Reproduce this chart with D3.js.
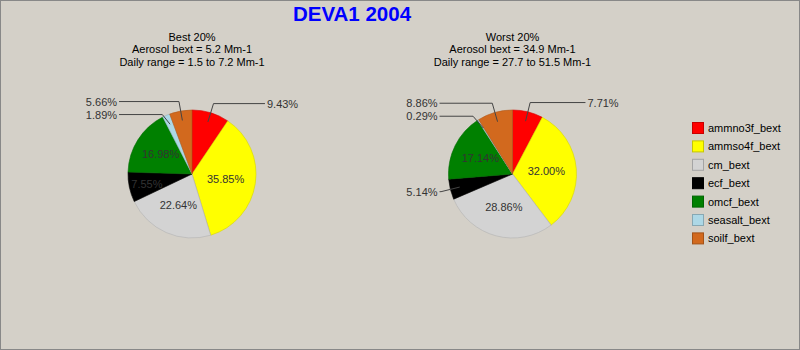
<!DOCTYPE html>
<html><head><meta charset="utf-8">
<script src="https://cdn.jsdelivr.net/npm/d3@7"></script>
<style>body{margin:0;background:#d4d0c8;} svg{display:block;font-family:Arial,"Liberation Sans",sans-serif;}</style>
</head><body><svg id="c" width="800" height="350"></svg>
<script>
const title = "DEVA1 2004";
const categories = ["ammno3f_bext","ammso4f_bext","cm_bext","ecf_bext","omcf_bext","seasalt_bext","soilf_bext"];
const colors = ["#ff0000","#ffff00","#d3d3d3","#000000","#008000","#add8e6","#d2691e"];
const bestValues = [9.43,35.85,22.64,7.55,16.98,1.89,5.66];
const worstValues = [7.71,32.00,28.86,5.14,17.14,0.29,8.86];
const bestTitle = ["Best 20%","Aerosol bext = 5.2 Mm-1","Daily range = 1.5 to 7.2 Mm-1"];
const worstTitle = ["Worst 20%","Aerosol bext = 34.9 Mm-1","Daily range = 27.7 to 51.5 Mm-1"];

const W=800,H=350;
const svg=d3.select("#c");
svg.append("rect").attr("x",0.5).attr("y",0.5).attr("width",W-1).attr("height",H-1)
  .attr("fill","#d4d0c8").attr("stroke","#888");
svg.append("text").attr("x",352).attr("y",21).attr("text-anchor","middle")
  .attr("font-size",20.5).attr("font-weight","bold").attr("fill","#0000ff").text(title);

function drawPie(cx,cy,r,values,titles){
  const g=svg.append("g");
  titles.forEach((t,i)=>g.append("text").attr("x",cx).attr("y",41+i*12.3)
    .attr("text-anchor","middle").attr("font-size",11).attr("fill","#000").text(t));
  const pie=d3.pie().sort(null).value(d=>d)(values);
  const arc=d3.arc().innerRadius(0).outerRadius(r);
  const pg=g.append("g").attr("transform",`translate(${cx},${cy})`);
  pg.selectAll("path").data(pie).join("path").attr("d",arc)
    .attr("fill",(d,i)=>colors[i])
    .attr("stroke",(d,i)=>d3.color(colors[i]).darker(0.5)).attr("stroke-width",0.6);
  const total=d3.sum(values);
  const fmt=v=>(v/total*100).toFixed(2)+"%";
  const angOf=(x,y)=>{let a=Math.atan2(x,-y); if(a<0)a+=2*Math.PI; return a;};
  const outside=[];
  pie.forEach((d,i)=>{
    const txt=fmt(d.value);
    const probe=pg.append("text").attr("font-size",11).text(txt);
    const tw=probe.node().getComputedTextLength(); probe.remove();
    const th=9;
    const mid=(d.startAngle+d.endAngle)/2;
    let placed=null;
    for(let k=0.53;k<=0.82;k+=0.01){
      const px=Math.sin(mid)*r*k, py=-Math.cos(mid)*r*k;
      const corners=[[px-tw/2,py-th/2],[px+tw/2,py-th/2],[px-tw/2,py+th/2],[px+tw/2,py+th/2]];
      const ok=corners.every(([x,y])=>{const a=angOf(x,y);return a>=d.startAngle&&a<=d.endAngle&&Math.hypot(x,y)<r;});
      if(ok){placed=[px,py];break;}
    }
    if(placed){
      pg.append("text").attr("x",placed[0]).attr("y",placed[1]+4).attr("text-anchor","middle")
        .attr("font-size",11).attr("fill","#333").text(txt);
    } else {
      const sx=Math.sin(mid)*r*0.85, sy=-Math.cos(mid)*r*0.85;
      const ex=Math.sin(mid)*r*1.15, ey=-Math.cos(mid)*r*1.15;
      outside.push({txt,sx,sy,ex,ey,side:Math.sin(mid)>=0?1:-1});
    }
  });
  [1,-1].forEach(s=>{
    const items=outside.filter(o=>o.side===s).sort((a,b)=>a.ey-b.ey);
    for(let j=1;j<items.length;j++){
      if(items[j].ey<items[j-1].ey+13) items[j].ey=items[j-1].ey+13;
    }
  });
  outside.forEach(o=>{
    const lx=o.side*r*1.14;
    pg.append("polyline").attr("points",`${o.sx},${o.sy} ${o.ex},${o.ey} ${lx},${o.ey}`)
      .attr("fill","none").attr("stroke","#444").attr("stroke-width",1);
    pg.append("text").attr("x",lx+o.side*2).attr("y",o.ey+4)
      .attr("text-anchor",o.side>0?"start":"end").attr("font-size",11).attr("fill","#333").text(o.txt);
  });
}
drawPie(192,174,64,bestValues,bestTitle);
drawPie(512.5,174,64,worstValues,worstTitle);

const lg=svg.append("g");
categories.forEach((c,i)=>{
  const y=122+i*18.4;
  lg.append("rect").attr("x",692.5).attr("y",y+0.5).attr("width",11).attr("height",11)
    .attr("fill",colors[i]).attr("stroke",d3.color(colors[i]).darker(0.7));
  lg.append("text").attr("x",708).attr("y",y+10).attr("font-size",11).attr("fill","#000").text(c);
});
</script></body></html>
